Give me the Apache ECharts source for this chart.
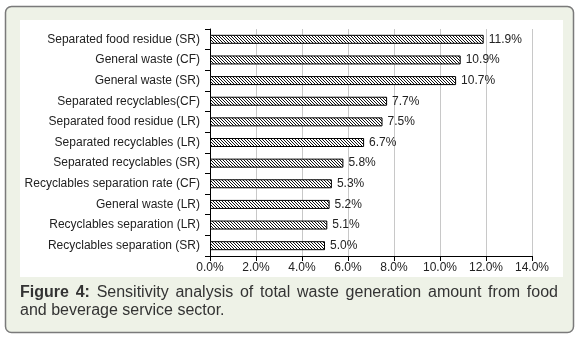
<!DOCTYPE html>
<html>
<head>
<meta charset="utf-8">
<script src="https://cdn.jsdelivr.net/npm/echarts@6/dist/echarts.min.js"></script>
<style>html,body{margin:0;padding:0;background:#fff}#c{width:579px;height:341px}</style>
</head>
<body>
<div id="c"></div>
<script>
var categories = [
  "Separated food residue (SR)",
  "General waste (CF)",
  "General waste (SR)",
  "Separated recyclables(CF)",
  "Separated food residue (LR)",
  "Separated recyclables (LR)",
  "Separated recyclables (SR)",
  "Recyclables separation rate (CF)",
  "General waste (LR)",
  "Recyclables separation (LR)",
  "Recyclables separation (SR)"
];
var values = [11.9, 10.9, 10.7, 7.7, 7.5, 6.7, 5.8, 5.3, 5.2, 5.1, 5.0];
var xMin = 0, xMax = 14, xStep = 2;
var captionBold = "Figure 4:";
var captionLine1 = "Sensitivity analysis of total waste generation amount from food";
var captionLine2 = "and beverage service sector.";

var font = '"Liberation Sans", Arial, sans-serif';

function hatch() {
  var n = 3;
  var cv = document.createElement('canvas');
  cv.width = n; cv.height = n;
  var ctx = cv.getContext('2d');
  ctx.fillStyle = '#ffffff';
  ctx.fillRect(0, 0, n, n);
  ctx.fillStyle = '#111111';
  for (var y = 0; y < n; y++) for (var x = 0; x < n; x++) {
    if (((x - y) % n + n) % n === 0) ctx.fillRect(x, y, 1, 1);
  }
  return cv;
}

// justified first caption line
function captionGraphics() {
  var fs = 16, left = 20, right = 558, top1 = 285, top2 = 303;
  var cv = document.createElement('canvas').getContext('2d');
  var words = [];
  captionBold.split(' ').forEach(function (w) { words.push({t: w, b: true}); });
  captionLine1.split(' ').forEach(function (w) { words.push({t: w, b: false}); });
  var total = 0;
  words.forEach(function (w) {
    cv.font = (w.b ? 'bold ' : '') + fs + 'px ' + font;
    w.w = cv.measureText(w.t).width;
    total += w.w;
  });
  var gap = (right - left - total) / (words.length - 1);
  var out = [];
  var x = left;
  words.forEach(function (w) {
    out.push({type: 'text', x: x, y: top1, style: {text: w.t, font: (w.b ? 'bold ' : '') + fs + 'px ' + font, fill: '#333333'}});
    x += w.w + gap;
  });
  out.push({type: 'text', x: left, y: top2, style: {text: captionLine2, font: fs + 'px ' + font, fill: '#333333'}});
  return out;
}

var chart = echarts.init(document.getElementById('c'), null, {renderer: 'canvas'});
chart.setOption({
  animation: false,
  backgroundColor: '#ffffff',
  graphic: [
    {type: 'rect', z: -10, shape: {x: 5.5, y: 6.5, width: 568, height: 326, r: 6},
     style: {fill: '#eef2e7', stroke: '#7a7a7a', lineWidth: 1.5}},
    {type: 'rect', z: -9, shape: {x: 20, y: 20, width: 543, height: 257},
     style: {fill: '#ffffff'}}
  ].concat(captionGraphics()),
  grid: {left: 210, right: 47, top: 29, bottom: 85, containLabel: false},
  xAxis: {
    type: 'value', min: xMin, max: xMax, interval: xStep,
    axisLine: {show: true, lineStyle: {color: '#000', width: 1}},
    axisTick: {show: true, length: 5, lineStyle: {color: '#000'}},
    axisLabel: {color: '#222', fontSize: 12, fontFamily: font, margin: 6,
      formatter: function (v) { return v.toFixed(1) + '%'; }},
    splitLine: {show: true, lineStyle: {color: '#c8c8c8', width: 1}}
  },
  yAxis: {
    type: 'category', data: categories, inverse: true,
    axisLine: {show: true, lineStyle: {color: '#000', width: 1}},
    axisTick: {show: true, length: 5, lineStyle: {color: '#000'}},
    axisLabel: {color: '#222', fontSize: 12, fontFamily: font, margin: 10}
  },
  series: [{
    type: 'bar', data: values, barWidth: 9,
    itemStyle: {color: {image: hatch(), repeat: 'repeat'}, borderColor: '#000', borderWidth: 1},
    label: {show: true, position: 'right', distance: 5, color: '#222', fontSize: 12, fontFamily: font,
      formatter: function (p) { return p.value.toFixed(1) + '%'; }}
  }]
});
</script>
</body>
</html>
